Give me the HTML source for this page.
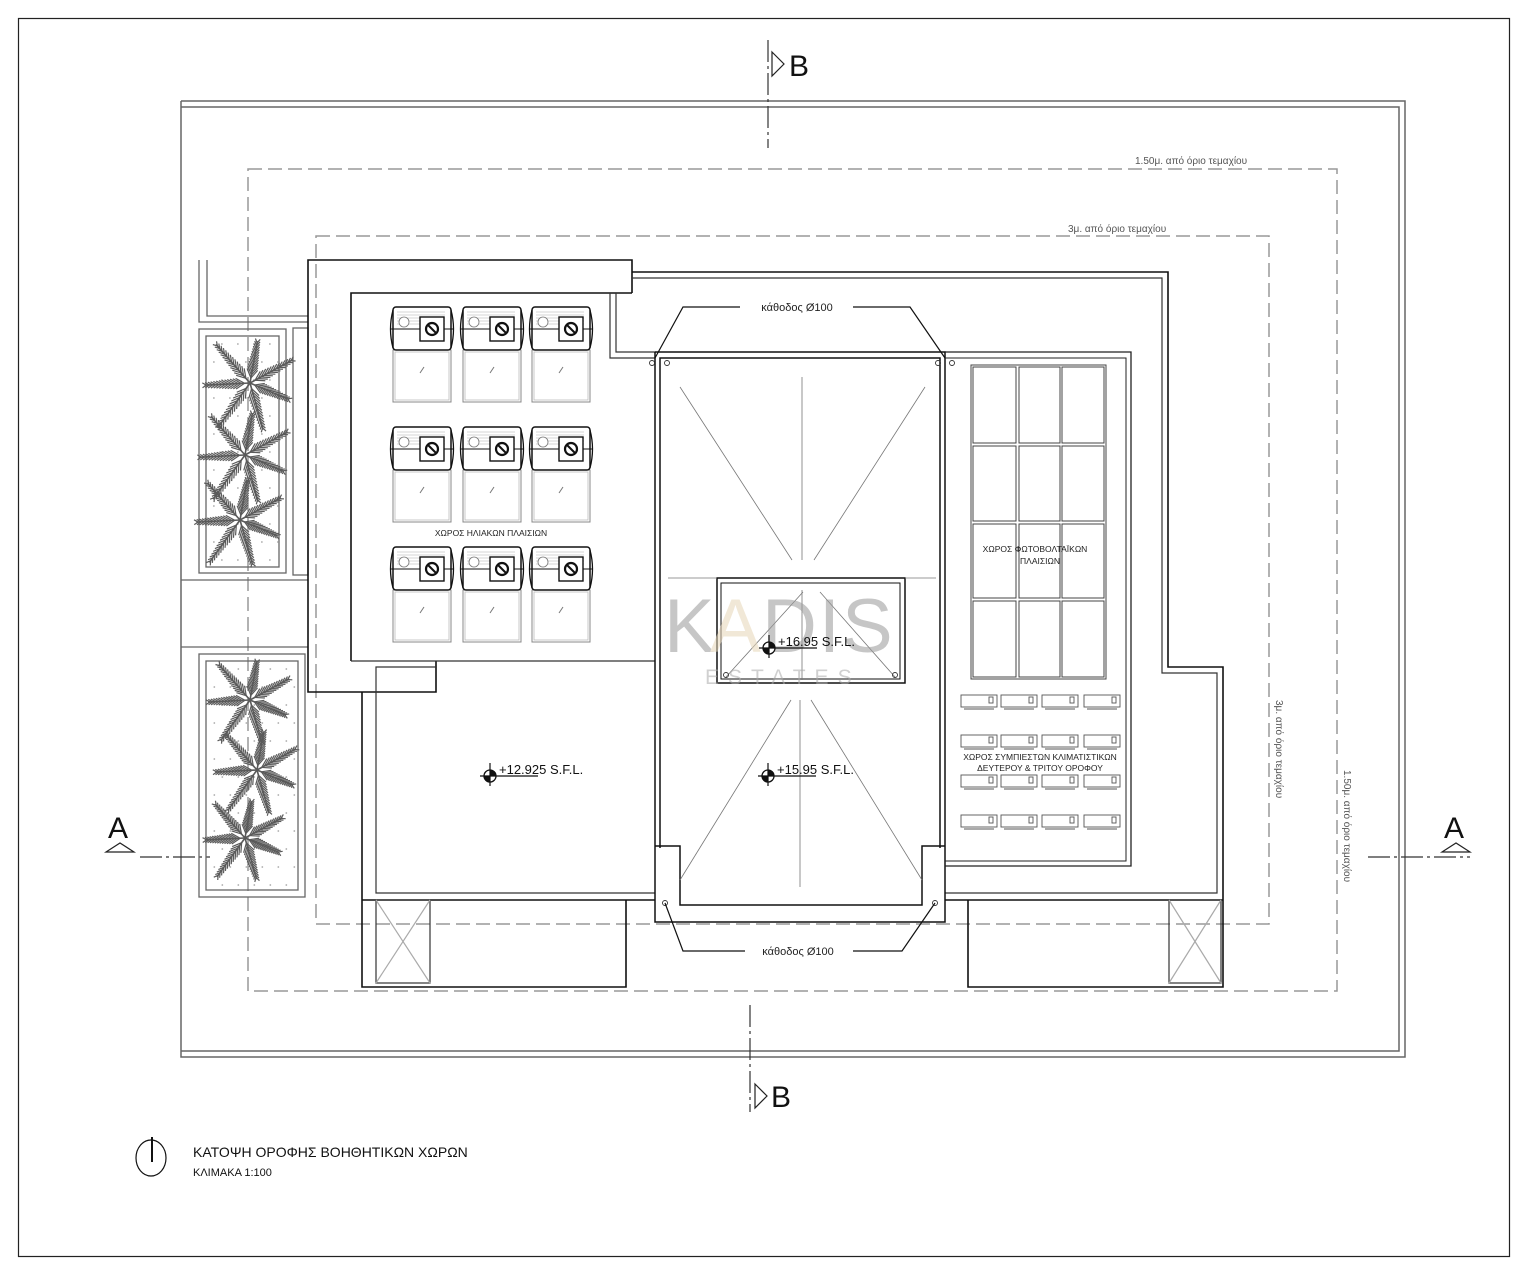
<!DOCTYPE html>
<html><head><meta charset="utf-8"><style>
html,body{margin:0;padding:0;background:#fff}
svg{display:block}
text{font-family:"Liberation Sans","DejaVu Sans",sans-serif}
</style></head><body>
<svg id="s" width="1527" height="1277" viewBox="0 0 1527 1277" xmlns="http://www.w3.org/2000/svg">
<rect x="0" y="0" width="1527" height="1277" fill="#fff"/>
<rect x="18.5" y="18.5" width="1491" height="1238" fill="none" stroke="#222" stroke-width="1.2"/>
<g fill="none" stroke="#666" stroke-width="1.5">
<polyline points="181,101 1405,101 1405,1057 181,1057 181,101"/>
<polyline points="181,107 1399,107 1399,1051 181,1051"/>
</g>
<g fill="none" stroke="#999" stroke-width="1.5" stroke-dasharray="14,6">
<rect x="248" y="169" width="1089" height="822"/>
<rect x="316" y="236" width="953" height="688"/>
</g>
<g fill="#555" font-size="10">
<text x="1135" y="164">1.50μ. από όριο τεμαχίου</text>
<text x="1068" y="232">3μ. από όριο τεμαχίου</text>
<text transform="translate(1276,700) rotate(90)">3μ. από όριο τεμαχίου</text>
<text transform="translate(1344,770) rotate(90)">1.50μ. από όριο τεμαχίου</text>
</g>
<g stroke="#333" stroke-width="1.2" fill="none" stroke-dasharray="22,4,3,4">
<line x1="768" y1="40" x2="768" y2="148"/>
<line x1="750" y1="1005" x2="750" y2="1112"/>
<line x1="140" y1="857" x2="210" y2="857"/>
<line x1="1368" y1="857" x2="1470" y2="857"/>
</g>
<g stroke="#222" stroke-width="1.2" fill="none">
<polygon points="772,52 784,64 772,76"/>
<polygon points="755,1084 767,1096 755,1108"/>
<polygon points="106,852 120,843 134,852"/>
<polygon points="1442,852 1456,843 1470,852"/>
</g>
<g fill="#111" font-size="30">
<text x="789" y="76">B</text>
<text x="771" y="1107">B</text>
<text x="108" y="838">A</text>
<text x="1444" y="838">A</text>
</g>
<g fill="none" stroke="#666" stroke-width="1.3">
<polyline points="199,260 199,322 308,322"/>
<polyline points="207,260 207,316 308,316"/>
<rect x="199" y="329" width="87" height="244"/>
<rect x="206" y="336" width="73" height="231"/>
<rect x="293" y="328" width="15" height="247"/>
<line x1="181" y1="580" x2="308" y2="580"/>
<line x1="181" y1="647" x2="308" y2="647"/>
<rect x="199" y="654" width="106" height="243"/>
<rect x="206" y="661" width="92" height="229"/>
</g>
<g id="dots" fill="#aaa"></g>
<g id="palms" stroke="#5a5a5a" stroke-width="1.6" fill="none"></g>
<g fill="none" stroke="#111" stroke-width="1.6">
<polyline points="632,293 632,260 308,260 308,692 436,692 436,661"/>
<polyline points="351,661 351,293 632,293"/>
<polyline points="632,272 1168,272 1168,667 1223,667 1223,987 968,987 968,900"/>
<polyline points="362,692 362,987 626,987 626,900"/>
<line x1="362" y1="900" x2="655" y2="900"/>
<line x1="945" y1="900" x2="1223" y2="900"/>
</g>
<g fill="none" stroke="#333" stroke-width="1.2">
<polyline points="632,278 1162,278 1162,673 1217,673 1217,893 945,893"/>
<polyline points="436,667 376,667 376,893 655,893"/>
<line x1="351" y1="661" x2="655" y2="661"/>
<polyline points="610,293 610,358 655,358"/>
<polyline points="616,293 616,352 655,352"/>
<rect x="376" y="900" width="54" height="83"/>
<line x1="376" y1="900" x2="430" y2="983" stroke="#aaa"/>
<line x1="430" y1="900" x2="376" y2="983" stroke="#aaa"/>
<rect x="1169" y="900" width="52" height="83"/>
<line x1="1169" y1="900" x2="1221" y2="983" stroke="#aaa"/>
<line x1="1221" y1="900" x2="1169" y2="983" stroke="#aaa"/>
</g>
<g fill="none" stroke="#111" stroke-width="1.5">
<polyline points="655,352 945,352 945,922 655,922 655,352"/>
<polyline points="660,848 660,358 940,358 940,848"/>
<polyline points="655,846 680,846 680,905 922,905 922,846 945,846"/>
<rect x="717" y="578" width="188" height="105"/>
<rect x="721" y="583" width="179" height="96" stroke-width="1"/>
</g>
<g stroke="#777" stroke-width="0.8" fill="none">
<line x1="680" y1="387" x2="792" y2="560"/>
<line x1="925" y1="387" x2="814" y2="560"/>
<line x1="802" y1="377" x2="802" y2="560"/>
<line x1="668" y1="578" x2="717" y2="578"/>
<line x1="905" y1="578" x2="936" y2="578"/>
<line x1="726" y1="677" x2="803" y2="592"/>
<line x1="895" y1="677" x2="820" y2="592"/>
<line x1="802" y1="590" x2="802" y2="680"/>
<line x1="791" y1="700" x2="680" y2="880"/>
<line x1="811" y1="700" x2="922" y2="880"/>
<line x1="800" y1="700" x2="800" y2="887"/>
</g>
<g fill="none" stroke="#333" stroke-width="0.9">
<circle cx="652" cy="363" r="2.5"/><circle cx="667" cy="363" r="2.5"/>
<circle cx="938" cy="363" r="2.5"/><circle cx="952" cy="363" r="2.5"/>
<circle cx="665" cy="903" r="2.5"/><circle cx="935" cy="903" r="2.5"/>
<circle cx="726" cy="675" r="2.5"/><circle cx="895" cy="675" r="2.5"/>
</g>
<g stroke="#111" stroke-width="1.2" fill="none">
<polyline points="740,307 683,307 655,358"/>
<polyline points="853,307 910,307 945,358"/>
<polyline points="745,951 683,951 665,903"/>
<polyline points="853,951 902,951 935,903"/>
</g>
<g font-size="11" fill="#222" text-anchor="middle">
<text x="797" y="311">κάθοδος Ø100</text>
<text x="798" y="955">κάθοδος Ø100</text>
</g>
<g fill="none" stroke="#222" stroke-width="1.3">
<polyline points="945,352 1131,352 1131,866 945,866"/>
<polyline points="945,358 1126,358 1126,861 945,861" stroke-width="1"/>
</g>
<g id="pv" fill="none" stroke="#444" stroke-width="1"></g>
<g id="ac" fill="none" stroke="#555" stroke-width="0.9"></g>
<g font-size="8.5" fill="#222" text-anchor="middle">
<text x="1035" y="552">ΧΩΡΟΣ ΦΩΤΟΒΟΛΤΑΪΚΩΝ</text>
<text x="1040" y="564">ΠΛΑΙΣΙΩΝ</text>
<text x="1040" y="760">ΧΩΡΟΣ ΣΥΜΠΙΕΣΤΩΝ ΚΛΙΜΑΤΙΣΤΙΚΩΝ</text>
<text x="1040" y="771">ΔΕΥΤΕΡΟΥ &amp; ΤΡΙΤΟΥ ΟΡΟΦΟΥ</text>
<text x="491" y="536">ΧΩΡΟΣ ΗΛΙΑΚΩΝ ΠΛΑΙΣΙΩΝ</text>
</g>
<g id="sol"></g>
<g opacity="0.55">
<text x="664" y="652" font-size="76" fill="#999" letter-spacing="4">K</text>
<text x="710" y="652" font-size="76" fill="#e6d6b8">A</text>
<text x="762" y="652" font-size="76" fill="#999" letter-spacing="2">DIS</text>
<text x="705" y="684" font-size="21" fill="#aaa" letter-spacing="9">ESTATES</text>
</g>
<g id="elev"></g>
<g font-size="13" fill="#111">
<text x="778" y="646">+16.95 S.F.L.</text>
<text x="499" y="774">+12.925 S.F.L.</text>
<text x="777" y="774">+15.95 S.F.L.</text>
</g>
<ellipse cx="151" cy="1158" rx="15" ry="18" fill="none" stroke="#111" stroke-width="1.2"/>
<line x1="152" y1="1137" x2="152" y2="1162" stroke="#111" stroke-width="2"/>
<text x="193" y="1157" font-size="14" fill="#111">ΚΑΤΟΨΗ ΟΡΟΦΗΣ ΒΟΗΘΗΤΙΚΩΝ ΧΩΡΩΝ</text>
<text x="193" y="1176" font-size="11" fill="#111">ΚΛΙΜΑΚΑ 1:100</text>
</svg>
<script>
var NS="http://www.w3.org/2000/svg";
function el(p,t,a){var e=document.createElementNS(NS,t);for(var k in a)e.setAttribute(k,a[k]);p.appendChild(e);return e;}
var pv=document.getElementById('pv');
var cx=[973,1019,1062],cw=[43,41,42],ry=[367,446,524,601],rh=[76,75,74,76];
el(pv,'rect',{x:971,y:365,width:135,height:314});
for(var i=0;i<3;i++)for(var j=0;j<4;j++)el(pv,'rect',{x:cx[i],y:ry[j],width:cw[i],height:rh[j]});
var ac=document.getElementById('ac');
[961,1001,1042,1084].forEach(function(x){[695,735,775,815].forEach(function(y){
 el(ac,'rect',{x:x,y:y,width:36,height:12});
 el(ac,'rect',{x:x+28,y:y+2,width:4,height:6});
 el(ac,'line',{x1:x+3,y1:y+14,x2:x+33,y2:y+14});
});});
var sol=document.getElementById('sol');
var sx=[389,459,528],sy=[307,427,547];
sx.forEach(function(x){sy.forEach(function(y){
 var w=66;
 el(sol,'rect',{x:x+4,y:y+43,width:w-8,height:52,fill:'none',stroke:'#888','stroke-width':1});
 el(sol,'rect',{x:x+6,y:y+45,width:w-12,height:48,fill:'none',stroke:'#bbb','stroke-width':0.8});
 el(sol,'line',{x1:x+31,y1:y+66,x2:x+35,y2:y+60,stroke:'#777','stroke-width':1});
 el(sol,'rect',{x:x+4,y:y,width:w-8,height:43,rx:3,fill:'none',stroke:'#111','stroke-width':1.5});
 el(sol,'path',{d:'M'+(x+4)+' '+(y+3)+' Q'+(x-1)+' '+(y+22)+' '+(x+4)+' '+(y+41)+' M'+(x+w-4)+' '+(y+3)+' Q'+(x+w+1)+' '+(y+22)+' '+(x+w-4)+' '+(y+41),fill:'none',stroke:'#111','stroke-width':1.3});
 for(var k=0;k<5;k++)el(sol,'line',{x1:x+8,y1:y+5+k*3,x2:x+w-10,y2:y+5+k*3,stroke:'#aaa','stroke-width':0.6});
 el(sol,'line',{x1:x+2,y1:y+22,x2:x+w-2,y2:y+22,stroke:'#111','stroke-width':1});
 el(sol,'circle',{cx:x+15,cy:y+15,r:5,fill:'#fff',stroke:'#777','stroke-width':0.8});
 el(sol,'rect',{x:x+31,y:y+10,width:24,height:24,fill:'#fff',stroke:'#111','stroke-width':1.4});
 el(sol,'circle',{cx:x+43,cy:y+22,r:6,fill:'none',stroke:'#111','stroke-width':2.2});
 el(sol,'line',{x1:x+39,y1:y+18,x2:x+47,y2:y+26,stroke:'#111','stroke-width':2});
});});
var pg=document.getElementById('palms');
function palm(cx,cy,s){
 var n=7;
 for(var f=0;f<n;f++){
  var a=f*2*Math.PI/n+0.4, L=s*(0.85+0.3*((f*37)%5)/5);
  var ex=cx+Math.cos(a)*L, ey=cy+Math.sin(a)*L;
  el(pg,'line',{x1:cx,y1:cy,x2:ex,y2:ey});
  for(var t=0.12;t<1;t+=0.07){
   var px=cx+Math.cos(a)*L*t, py=cy+Math.sin(a)*L*t, bl=11*(1-t*0.6);
   [0.55,-0.55].forEach(function(d){
    el(pg,'line',{x1:px,y1:py,x2:px+Math.cos(a+d)*bl,y2:py+Math.sin(a+d)*bl,'stroke-width':1.2});
   });
  }
 }
}
palm(250,383,50);palm(245,455,50);palm(240,520,48);
palm(250,700,46);palm(257,770,46);palm(245,838,44);
var dg=document.getElementById('dots');
[[206,336,73,231],[206,661,92,229]].forEach(function(r){
 for(var y=r[1]+8;y<r[1]+r[3];y+=18)for(var x=r[0]+7+((y/18)%2)*8;x<r[0]+r[2];x+=16)el(dg,'circle',{cx:x,cy:y,r:0.9});
});
var eg=document.getElementById('elev');
[[769,648],[490,776],[768,776]].forEach(function(p){
 var x=p[0],y=p[1];
 el(eg,'circle',{cx:x,cy:y,r:6,fill:'#fff',stroke:'#111','stroke-width':1.3});
 el(eg,'path',{d:'M'+x+' '+(y-6)+' A6 6 0 0 1 '+(x+6)+' '+y+' L'+x+' '+y+'Z M'+x+' '+(y+6)+' A6 6 0 0 1 '+(x-6)+' '+y+' L'+x+' '+y+'Z',fill:'#111'});
 el(eg,'line',{x1:x-10,y1:y,x2:x+48,y2:y,stroke:'#111','stroke-width':1.2});
 el(eg,'line',{x1:x,y1:y-13,x2:x,y2:y+10,stroke:'#111','stroke-width':1.2});
});
</script>
</body></html>
